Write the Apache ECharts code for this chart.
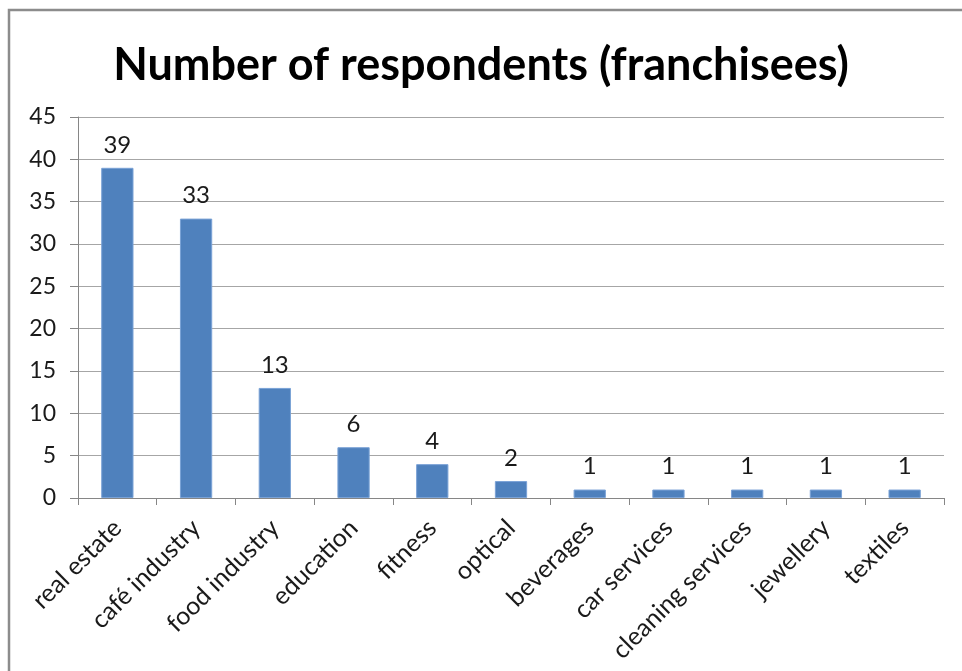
<!DOCTYPE html>
<html>
<head>
<meta charset="utf-8">
<script src="https://cdn.jsdelivr.net/npm/echarts@6/dist/echarts.min.js"></script>
<style>
  html, body { margin: 0; padding: 0; background: #fff; }
  #chart { width: 962px; height: 671px; }
</style>
</head>
<body>
<div id="chart"></div>
<script>
  // data
  const categories = ['real estate', 'café industry', 'food industry', 'education', 'fitness',
    'optical', 'beverages', 'car services', 'cleaning services', 'jewellery', 'textiles'];
  const respondents = [39, 33, 13, 6, 4, 2, 1, 1, 1, 1, 1];
  const yMin = 0, yMax = 45, yStep = 5;

  const font = 'Lato, "Liberation Sans", sans-serif';
  const chart = echarts.init(document.getElementById('chart'));

  chart.setOption({
    animation: false,
    backgroundColor: '#fff',
    title: {
      text: 'Number of respondents (franchisees)',
      left: 'center',
      top: 38,
      textStyle: { fontFamily: font, fontWeight: 'bold', fontSize: 45, color: '#000' }
    },
    graphic: [{
      type: 'rect',
      shape: { x: 9, y: 10, width: 1000, height: 700 },
      style: { fill: 'none', stroke: '#8c8c8c', lineWidth: 2.5 },
      silent: true
    }],
    grid: { left: 78, right: 18, top: 117, bottom: 173 },
    xAxis: {
      type: 'category',
      data: categories,
      axisLine: { lineStyle: { color: '#868686' } },
      axisTick: { show: true, alignWithLabel: false, length: 7, lineStyle: { color: '#868686' } },
      axisLabel: { rotate: 45, interval: 0, margin: 26, fontFamily: font, fontSize: 25, color: '#1a1a1a' }
    },
    yAxis: {
      type: 'value',
      min: yMin, max: yMax, interval: yStep,
      axisLine: { show: true, lineStyle: { color: '#868686' } },
      axisTick: { show: true, inside: false, length: 8, lineStyle: { color: '#868686' } },
      splitLine: { lineStyle: { color: '#a6a6a6' } },
      axisLabel: { margin: 22, fontFamily: font, fontSize: 23, color: '#1a1a1a' }
    },
    series: [{
      type: 'bar',
      data: respondents,
      barCategoryGap: '59%',
      itemStyle: { color: '#4F81BD', borderColor: '#7aa2d6', borderWidth: 1 },
      label: { show: true, position: 'top', distance: 11, fontFamily: font, fontSize: 24, color: '#1a1a1a' }
    }]
  });
</script>
</body>
</html>
